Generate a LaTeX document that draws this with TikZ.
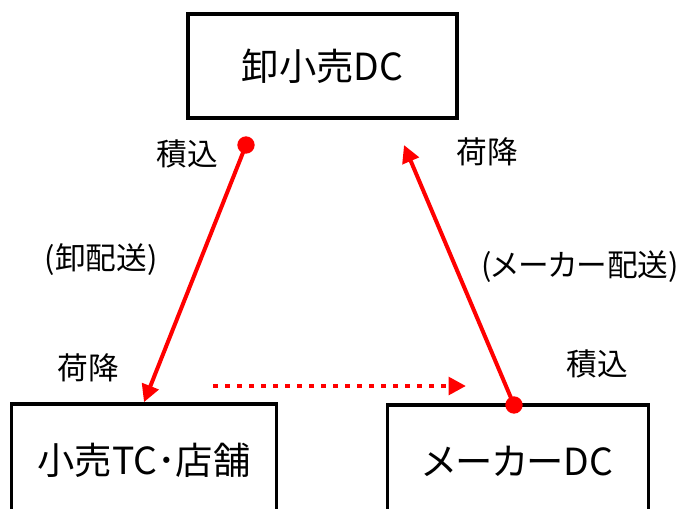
\documentclass[tikz,border=0pt]{standalone}
\usepackage{fontspec}
\setmainfont[CharacterWidth=AlternateProportional]{Noto Sans CJK JP}
\usepackage{xcolor}
\usepackage{tikz}
\usetikzlibrary{positioning,arrows.meta,calc}
\definecolor{flowred}{RGB}{255,0,0}
\tikzset{
  box/.style={draw=black, line width=2.7pt, minimum width=202pt, minimum height=78pt,
              inner sep=0pt, font=\fontsize{28}{32}\selectfont},
  lowbox/.style={box, minimum height=84pt},
  lbl/.style={font=\fontsize{23}{26}\selectfont, inner sep=0pt},
  dot/.style={circle, fill=flowred, minimum size=13pt, inner sep=0pt},
  flow/.style={-{Triangle[length=13pt, width=13pt]}, line width=3pt, flowred, shorten <=-2pt},
  hint/.style={-{Triangle[length=13pt, width=13pt]}, line width=3.6pt, flowred,
               dash pattern=on 3.6pt off 5.4pt}
}

\begin{document}
\begin{tikzpicture}[x=0.75pt, y=-0.75pt]
    \clip (0,0) rectangle (677,508);
    % boxes
    \node[box] (whs) at (322.5,66) {卸小売DC};
    \node[lowbox, minimum width=199pt] (ret) at (144,460) {小売TC･店舗};
    \node[lowbox, minimum width=196pt] (mkr) at (518,461) {メーカーDC};
    % start points and free ends
    \node[dot] (ldot) at (246,145) {};
    \node[dot] (rdot) at (514,405) {};
    \coordinate (rtip) at (404,145);
    \coordinate (hs) at (213,386);
    \coordinate (he) at (466,386);
    % deliveries
    \draw[flow] (ldot) -- (ret.north);
    \draw[flow] (rdot) -- (rtip);
    \draw[hint] (hs) -- (he);
    % labels
    \node[lbl] (lload) at (187,154) {積込};
    \node[lbl] (lvia) at (101,260) {(卸配送)};
    \node[lbl] (lunload) at (88,368) {荷降};
    \node[lbl] (runload) at (487,152) {荷降};
    \node[lbl] (rvia) at (580,267) {(メーカー配送)};
    \node[lbl] (rload) at (597,364) {積込};
  \end{tikzpicture}
\end{document}
